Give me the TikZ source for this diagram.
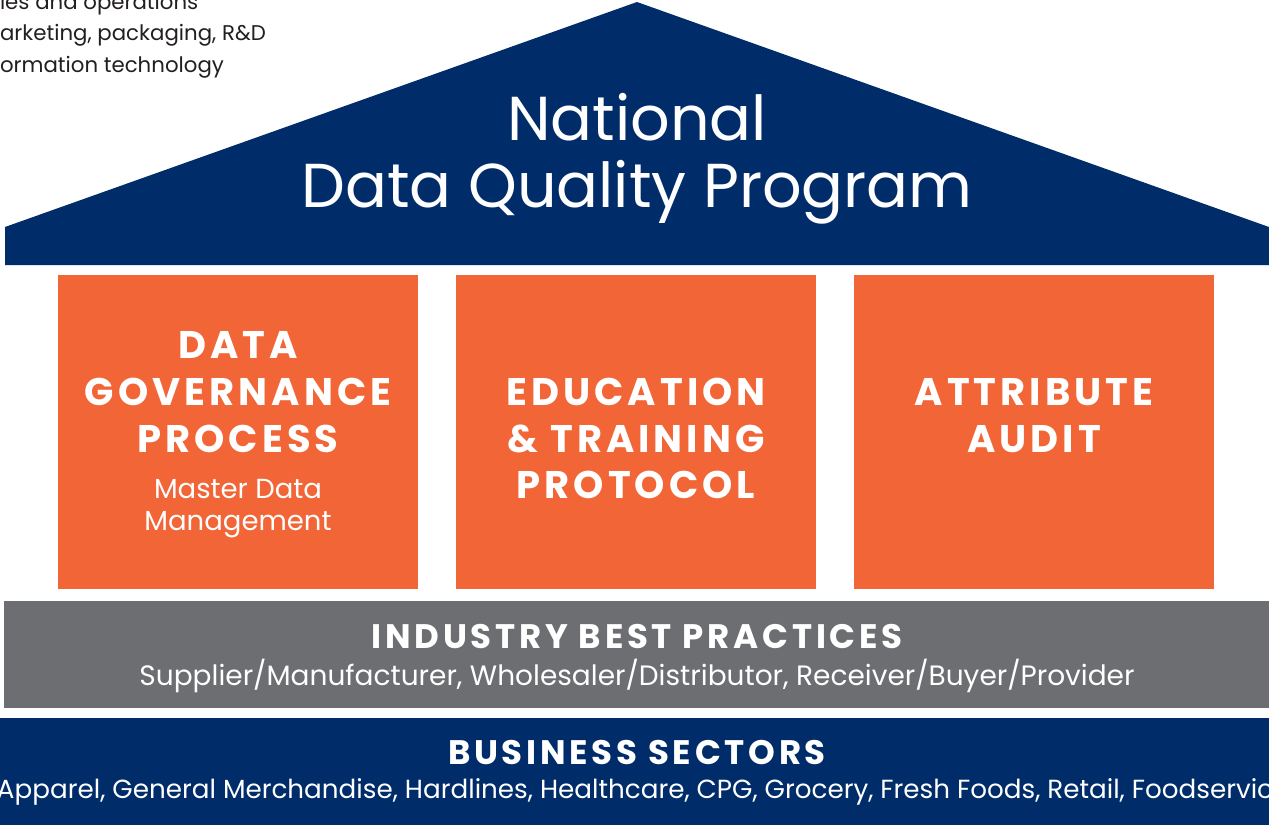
\documentclass[tikz,border=0pt]{standalone}
\usepackage{fontspec}
\setmainfont{Poppins}
\usetikzlibrary{positioning}
\definecolor{navy}{HTML}{002D6A}
\definecolor{pillar}{HTML}{F26537}
\definecolor{slate}{HTML}{6D6E71}
\definecolor{ink}{HTML}{231F20}
\tikzset{x=1pt,y=-1pt,
  every node/.style={inner sep=0pt,outer sep=0pt},
  pillarbox/.style={fill=pillar,anchor=north west,minimum width=360pt,minimum height=314pt},
  band/.style={anchor=north west,minimum height=107pt},
  capline/.style={anchor=base,text=white,font=\fontsize{38.5}{44}\selectfont\bfseries\addfontfeature{LetterSpace=10.5}},
  subline/.style={anchor=base,text=white,font=\fontsize{27.5}{32}\selectfont},
  bandhead/.style={anchor=base,text=white,font=\fontsize{34}{40}\selectfont\bfseries\addfontfeature{LetterSpace=11}},
  bandline/.style={anchor=base,text=white,font=\fontsize{28}{30}\selectfont},
  noteline/.style={anchor=base west,text=ink,font=\fontsize{21.3}{32}\selectfont},
  titleline/.style={anchor=base,text=white,font=\fontsize{62}{67}\selectfont}}
\begin{document}
\begin{tikzpicture}
\useasboundingbox (0,0) rectangle (1269,825);

% note at the top left, cut by the edge
\node[noteline] (n1) at (0,9) {ies and operations};
\node[noteline] (n2) at (0,40) {arketing, packaging, R\&D};
\node[noteline] (n3) at (0,72) {ormation technology};

% roof
\fill[navy] (5,265) -- (5,227) -- (637,2) -- (1269,227) -- (1269,265) -- cycle;
\node[titleline] (title1) at (637,140) {National};
\node[titleline] (title2) at (637,207) {Data Quality Program};

% pillars
\node[pillarbox] (dgp) at (58,275) {};
\node[pillarbox] (etp) at (456,275) {};
\node[pillarbox] (aud) at (854,275) {};

\node[capline] at (238,358) {DATA};
\node[capline] at (238,405) {GOVERNANCE};
\node[capline] at (238,452) {PROCESS};
\node[subline] at (238,498) {Master Data};
\node[subline] at (238,530) {Management};

\node[capline] at (636,405) {EDUCATION};
\node[capline] at (636,452) {\& TRAINING};
\node[capline] at (636,498) {PROTOCOL};

\node[capline] at (1034,405) {ATTRIBUTE};
\node[capline] at (1034,452) {AUDIT};

% bands
\node[band,fill=slate,minimum width=1265pt] (ibp) at (4,601) {};
\node[bandhead] at (637,648) {INDUSTRY BEST PRACTICES};
\node[bandline] at (637,685) {Supplier/Manufacturer, Wholesaler/Distributor, Receiver/Buyer/Provider};

\node[band,fill=navy,minimum width=1269pt] (bsec) at (0,718) {};
\node[bandhead] at (637,764) {BUSINESS SECTORS};
\node[bandline,font=\fontsize{26.2}{30}\selectfont,anchor=base west] at (-3,798) {Apparel, General Merchandise, Hardlines, Healthcare, CPG, Grocery, Fresh Foods, Retail, Foodservic};
\end{tikzpicture}
\end{document}
